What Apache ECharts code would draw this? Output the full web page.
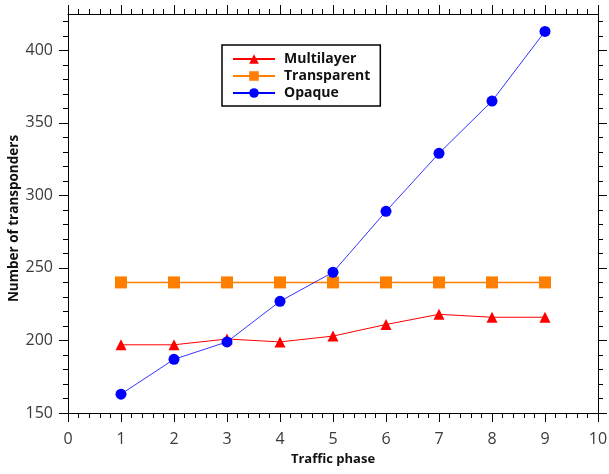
<!DOCTYPE html>
<html>
<head>
    <meta charset="utf-8" />
    <title>Number of transponders</title>
    <script src="https://cdn.jsdelivr.net/npm/echarts@6/dist/echarts.min.js"></script>
    <style>
        html, body { margin: 0; padding: 0; background: #fff; }
        #chart { width: 609px; height: 474px; }
    </style>
</head>
<body>
    <div id="chart"></div>
    <script>
        // traffic phases on the x axis
        var phases = [1, 2, 3, 4, 5, 6, 7, 8, 9];
        var multilayer = [197, 197, 201, 199, 203, 211, 218, 216, 216];
        var transparent = [240, 240, 240, 240, 240, 240, 240, 240, 240];
        var opaque = [163, 187, 199, 227, 247, 289, 329, 365, 413];

        // y axis ticks: labelled majors and small minors
        var yMajor = [150, 200, 250, 300, 350, 400];
        var yMinor = [160, 170, 180, 190, 210, 220, 230, 240, 260, 270, 280, 290,
                      310, 320, 330, 340, 360, 370, 380, 390, 410, 420];

        var font = '"Open Sans", "DejaVu Sans", sans-serif';

        function pairs(values) {
            return phases.map(function (p, i) { return [p, values[i]]; });
        }

        function xAxisOf(pos, showLabel) {
            return {
                type: 'value', position: pos, min: 0, max: 10, interval: 1,
                name: showLabel ? 'Traffic phase' : '',
                nameLocation: 'middle', nameGap: 40, nameMoveOverlap: false,
                nameTextStyle: { fontFamily: font, fontWeight: 'bold', fontSize: 13, color: '#111' },
                axisLine: { show: true, onZero: false, lineStyle: { color: '#000', width: 1 } },
                axisTick: { show: true, inside: false, length: 9, lineStyle: { color: '#000' } },
                minorTick: { show: true, splitNumber: 5, length: 5, lineStyle: { color: '#000' } },
                axisLabel: { show: showLabel, margin: 18, fontFamily: font, fontSize: 16, color: '#3a3a3a' },
                splitLine: { show: false }
            };
        }

        function yAxisOf(pos, ticks, len, showLabel) {
            return {
                type: 'value', position: pos, min: 150, max: 425,
                name: showLabel ? 'Number of transponders' : '',
                nameLocation: 'middle', nameGap: 47, nameMoveOverlap: false,
                nameTextStyle: { fontFamily: font, fontWeight: 'bold', fontSize: 13.5, color: '#111', padding: [0, 10, 0, 0] },
                axisLine: { show: true, onZero: false, lineStyle: { color: '#000', width: 1 } },
                axisTick: { show: true, inside: false, length: len, customValues: ticks, lineStyle: { color: '#000' } },
                axisLabel: { show: showLabel, customValues: ticks, margin: 15, fontFamily: font, fontSize: 16, color: '#3a3a3a' },
                splitLine: { show: false }
            };
        }

        var chart = echarts.init(document.getElementById('chart'));
        chart.setOption({
            animation: false,
            grid: { left: 68, right: 11, top: 14, bottom: 61, outerBoundsMode: 'none', containLabel: false },
            legend: {
                left: 222, top: 45, width: 159,
                orient: 'vertical',
                itemWidth: 42, itemHeight: 12, itemGap: 3,
                padding: [7, 10, 6, 10],
                borderColor: '#000', borderWidth: 1.5,
                textStyle: { fontFamily: font, fontWeight: 'bold', fontSize: 14, color: '#111', padding: [0, 0, 0, 4] },
                data: ['Multilayer', 'Transparent', 'Opaque']
            },
            xAxis: [xAxisOf('bottom', true), xAxisOf('top', false)],
            yAxis: [
                yAxisOf('left', yMajor, 9, true),
                yAxisOf('left', yMinor, 5, false),
                yAxisOf('right', yMajor, 9, false),
                yAxisOf('right', yMinor, 5, false)
            ],
            series: [
                {
                    name: 'Multilayer', type: 'line', data: pairs(multilayer),
                    symbol: 'triangle', symbolSize: 11,
                    itemStyle: { color: '#ff0000' },
                    lineStyle: { color: '#ff0000', width: 1 }
                },
                {
                    name: 'Transparent', type: 'line', data: pairs(transparent),
                    symbol: 'rect', symbolSize: 12,
                    itemStyle: { color: '#ff8000' },
                    lineStyle: { color: '#ff8000', width: 1.5 }
                },
                {
                    name: 'Opaque', type: 'line', data: pairs(opaque),
                    symbol: 'circle', symbolSize: 11,
                    itemStyle: { color: '#0000ff' },
                    lineStyle: { color: '#0000ff', width: 0.8 }
                }
            ]
        });
    </script>
</body>
</html>
